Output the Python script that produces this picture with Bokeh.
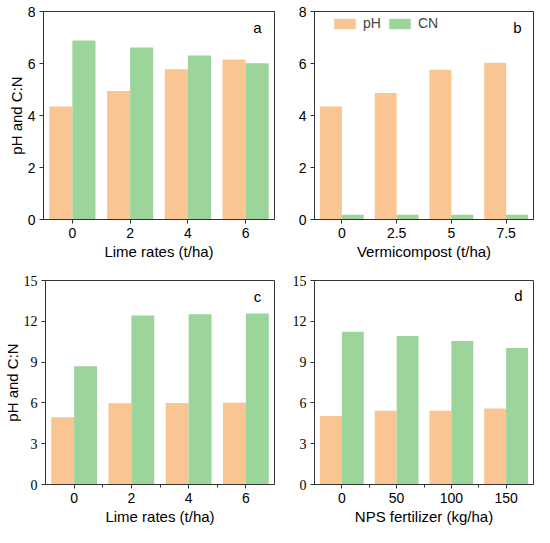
from bokeh.plotting import figure
from bokeh.layouts import column, row
from bokeh.models import Range1d, FixedTicker, Label, Legend, LegendItem, ColumnDataSource
from bokeh.embed import file_html
from bokeh.resources import INLINE

# ---- data ----
lime_rates = ["0", "2", "4", "6"]
vermi_rates = ["0", "2.5", "5", "7.5"]
nps_rates = ["0", "50", "100", "150"]

a_ph = [4.35, 4.94, 5.78, 6.15]
a_cn = [6.88, 6.62, 6.31, 6.01]

b_ph = [4.35, 4.87, 5.76, 6.03]
b_cn = [0.18, 0.18, 0.18, 0.18]

c_ph = [4.94, 5.98, 6.00, 6.02]
c_cn = [8.69, 12.43, 12.52, 12.57]

d_ph = [5.03, 5.43, 5.43, 5.58]
d_cn = [11.24, 10.91, 10.56, 10.04]

PH_COLOR = "#F9C593"
CN_COLOR = "#9BD59B"
AX_COLOR = "#333333"
SANS = "Liberation Sans"
SERIF = "Liberation Serif"


def panel(cats, ph, cn, ymax, yticks, xlabel, ylabel, letter, width, height,
          bl, br, bt, bb, yfont, yfont_size, minor_x, letter_dx, letter_dy, legend=False):
    p = figure(width=width, height=height, output_backend="svg", toolbar_location=None,
               x_range=Range1d(-0.5, len(cats) - 0.5), y_range=Range1d(0, ymax),
               min_border_left=bl, min_border_right=br, min_border_top=bt, min_border_bottom=bb)
    idx = list(range(len(cats)))
    src = ColumnDataSource(dict(
        xph=[i - 0.2 for i in idx], xcn=[i + 0.2 for i in idx], ph=ph, cn=cn))
    r1 = p.vbar(x="xph", top="ph", width=0.4, source=src, fill_color=PH_COLOR, line_color=None)
    r2 = p.vbar(x="xcn", top="cn", width=0.4, source=src, fill_color=CN_COLOR, line_color=None)

    p.grid.visible = False
    p.outline_line_color = AX_COLOR
    p.outline_line_width = 1
    p.outline_line_alpha = 1
    p.background_fill_color = "white"
    p.border_fill_color = "white"

    xa = p.xaxis[0]
    xa.ticker = FixedTicker(ticks=idx, minor_ticks=[i + 0.5 for i in idx[:-1]] if minor_x else [])
    xa.major_label_overrides = {i: c for i, c in zip(idx, cats)}
    xa.axis_label = xlabel
    ya = p.yaxis[0]
    ya.ticker = FixedTicker(ticks=yticks, minor_ticks=[])
    ya.axis_label = ylabel
    for ax in (xa, ya):
        ax.axis_line_color = AX_COLOR
        ax.major_tick_line_color = AX_COLOR
        ax.minor_tick_line_color = AX_COLOR
        ax.major_tick_out = 4
        ax.major_tick_in = 0
        ax.minor_tick_out = 3
        ax.minor_tick_in = 0
        ax.axis_label_text_font = SANS
        ax.axis_label_text_font_size = "15px"
        ax.axis_label_text_font_style = "normal"
        ax.axis_label_text_color = "black"
        ax.major_label_text_color = "black"
    xa.major_label_text_font = SANS
    xa.major_label_text_font_size = "14px"
    ya.major_label_text_font = yfont
    ya.major_label_text_font_size = yfont_size
    xa.major_label_standoff = 4
    ya.major_label_standoff = 4
    xa.axis_label_standoff = 2
    ya.axis_label_standoff = 0

    # panel letter
    p.add_layout(Label(x=len(cats) - 0.5, y=ymax, x_offset=-letter_dx, y_offset=-letter_dy,
                       text=letter, text_font=SANS, text_font_size="15px", text_align="center",
                       text_baseline="middle", text_color="black"))

    if legend:
        fh = height - bt - bb
        lg = Legend(items=[LegendItem(label="pH", renderers=[r1]),
                           LegendItem(label="CN", renderers=[r2])],
                    orientation="horizontal", location=(17, fh - 7 - 13),
                    glyph_width=27, glyph_height=13, label_height=13, label_standoff=5,
                    spacing=3, padding=0, margin=0,
                    label_text_font=SANS, label_text_font_size="14px",
                    label_text_baseline="middle",
                    border_line_alpha=0, background_fill_alpha=0)
        p.add_layout(lg)
    return p


pa = panel(lime_rates, a_ph, a_cn, 8, [0, 2, 4, 6, 8], "Lime rates (t/ha)", "pH and C:N", "a",
           278, 262, 43, 4, 11, 43, SANS, "14px", False, 17, 16)
pb = panel(vermi_rates, b_ph, b_cn, 8, [0, 2, 4, 6, 8], "Vermicompost (t/ha)", "", "b",
           256, 262, 36, 1, 11, 43, SANS, "14px", False, 16, 16, legend=True)
pc = panel(lime_rates, c_ph, c_cn, 15, [0, 3, 6, 9, 12, 15], "Lime rates (t/ha)", "pH and C:N", "c",
           278, 265, 43, 4, 18, 43, SERIF, "14px", True, 17, 16)
pd = panel(nps_rates, d_ph, d_cn, 15, [0, 3, 6, 9, 12, 15], "NPS fertilizer (kg/ha)", "", "d",
           256, 265, 36, 1, 18, 43, SERIF, "14px", True, 15, 15)

layout = column(row(pa, pb), row(pc, pd))
open("out.html", "w").write(file_html(layout, INLINE))
